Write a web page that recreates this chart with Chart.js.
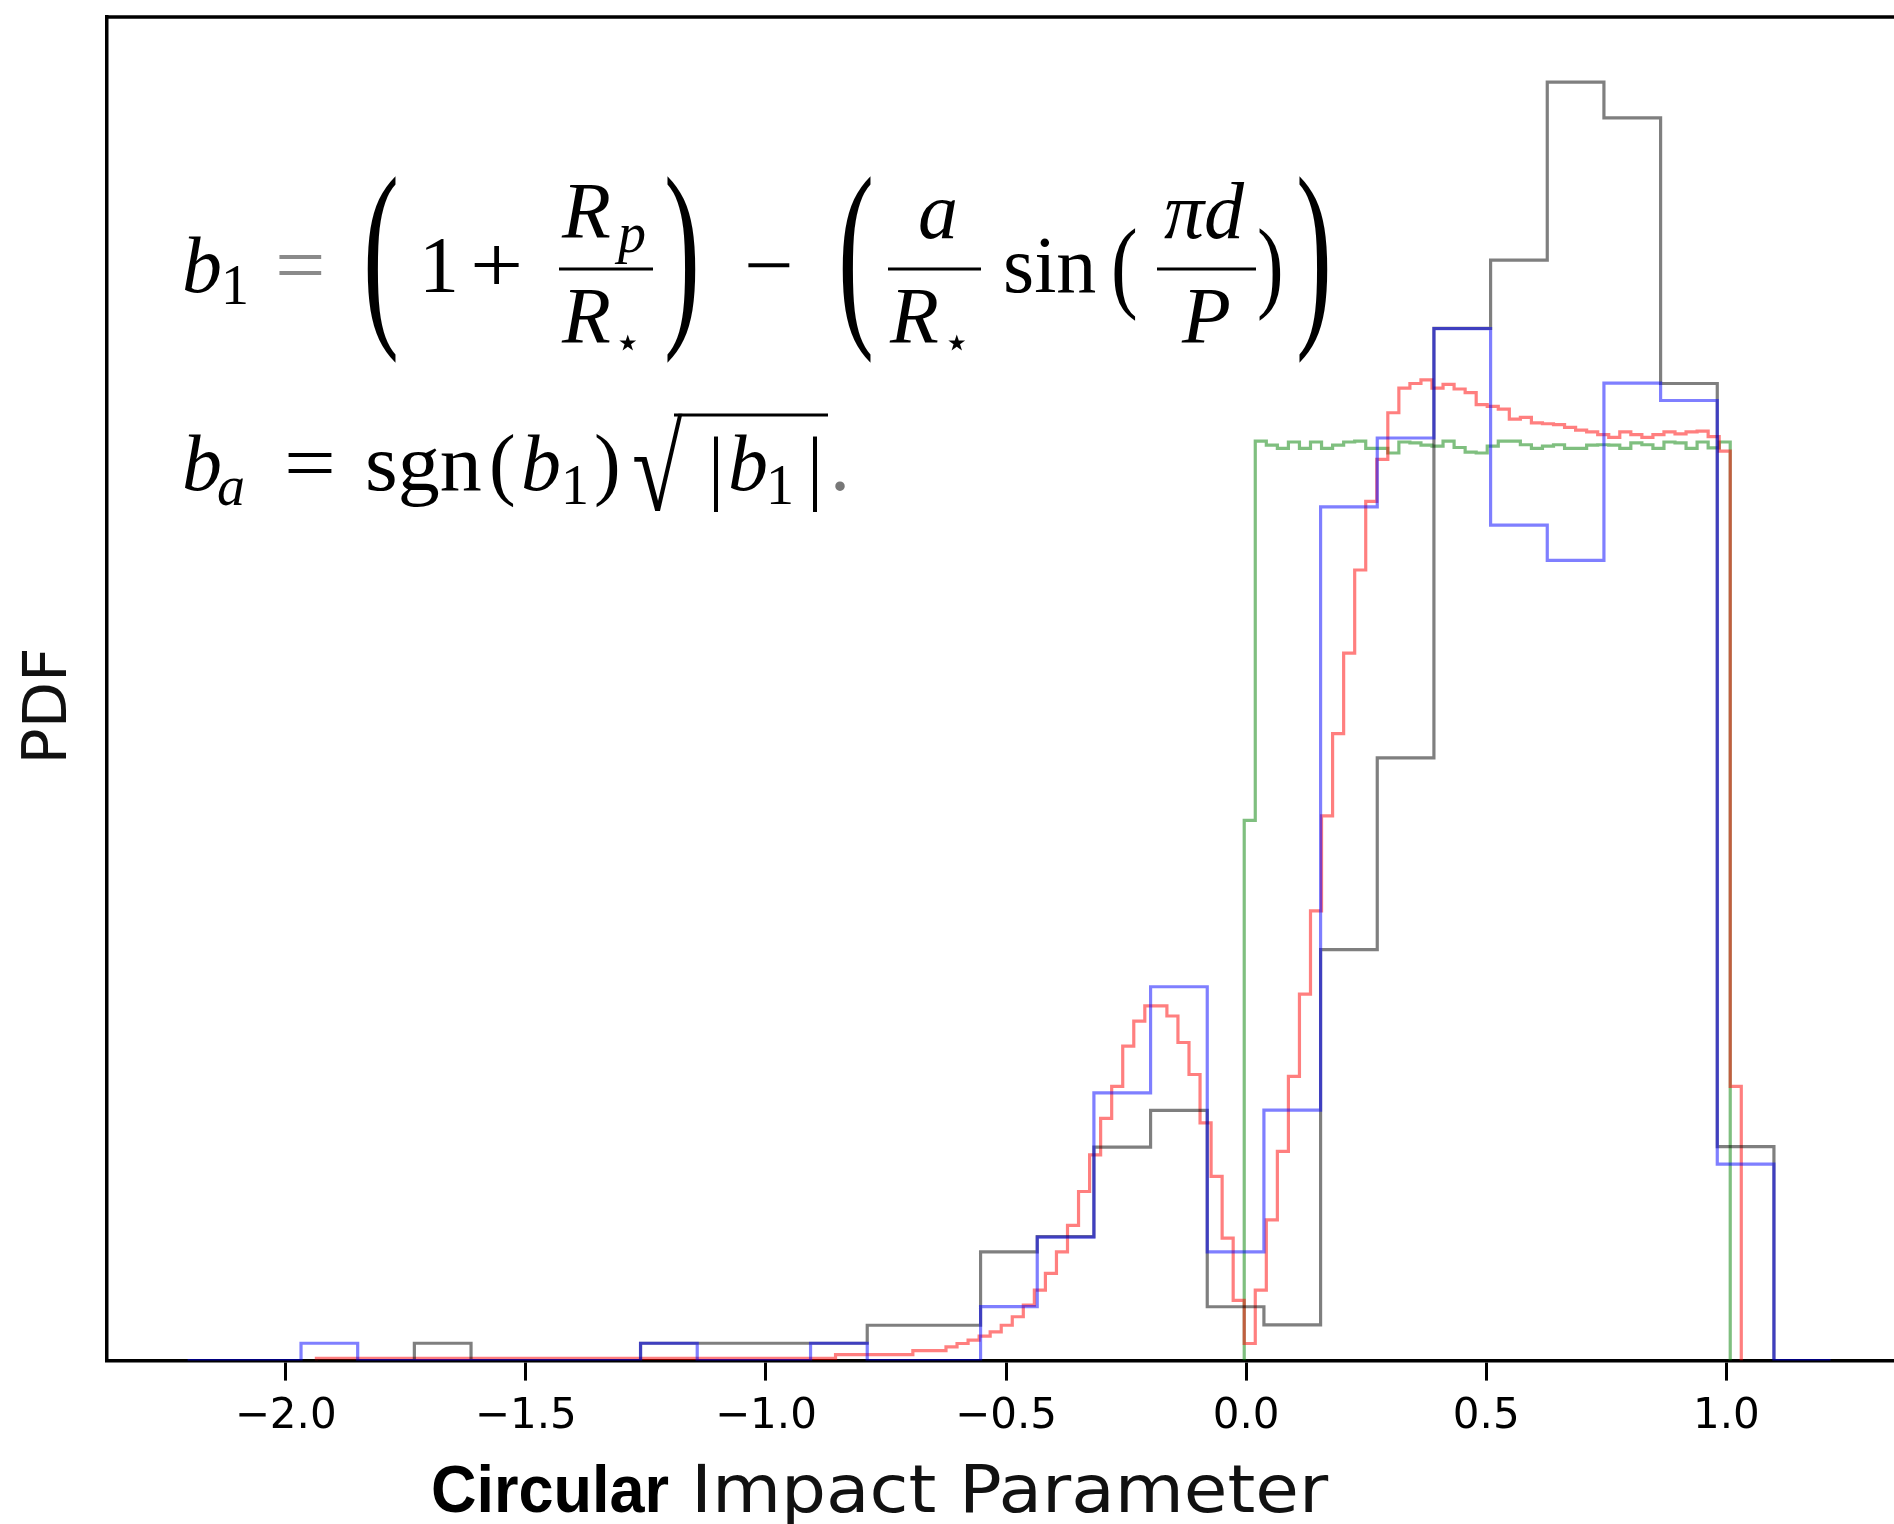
<!DOCTYPE html>
<html><head><meta charset="utf-8">
<script src="https://cdn.jsdelivr.net/npm/chart.js@4"></script>
<style>html,body{margin:0;padding:0;background:#fff;overflow:hidden}canvas{display:block}</style>
</head><body>
<canvas id="c" width="1894" height="1524"></canvas>
<script>
// ---- data ----
const tickValues = [-2.0, -1.5, -1.0, -0.5, 0.0, 0.5, 1.0];
const tickLabels = ['\u22122.0', '\u22121.5', '\u22121.0', '\u22120.5', '0.0', '0.5', '1.0'];

const coarseEdges = [-2.204,-2.086,-1.968,-1.850,-1.732,-1.614,-1.496,-1.378,-1.261,-1.143,
  -1.025,-0.907,-0.789,-0.671,-0.553,-0.435,-0.317,-0.199,-0.081,0.037,
  0.155,0.273,0.391,0.509,0.627,0.745,0.863,0.981,1.099,1.217];

const blackPdf = [0,0,0,0,0.019,0,0,0,0.019,0.019,
  0.019,0.019,0.0387,0.0387,0.119,0.1356,0.2335,0.2738,0.0589,0.039,
  0.4496,0.6594,1.1294,1.204,1.3988,1.3596,1.069,0.2342,0];

const bluePdf = [0,0,0.019,0,0,0,0,0,0.019,0,
  0,0.019,0,0,0.059,0.135,0.293,0.409,0.119,0.274,
  0.934,1.0094,1.129,0.914,0.8755,1.0695,1.0504,0.215,0];

const fineEdges = [-1.936,-1.913,-1.890,-1.867,-1.844,-1.821,-1.798,-1.775,-1.752,-1.729,
  -1.706,-1.683,-1.660,-1.637,-1.614,-1.591,-1.568,-1.545,-1.522,-1.499,
  -1.476,-1.453,-1.430,-1.407,-1.384,-1.361,-1.338,-1.315,-1.292,-1.269,
  -1.246,-1.223,-1.200,-1.177,-1.154,-1.131,-1.108,-1.085,-1.062,-1.039,
  -1.016,-0.993,-0.970,-0.947,-0.924,-0.901,-0.878,-0.855,-0.832,-0.809,
  -0.786,-0.763,-0.740,-0.717,-0.694,-0.671,-0.648,-0.625,-0.602,-0.579,
  -0.556,-0.533,-0.510,-0.487,-0.464,-0.441,-0.418,-0.395,-0.372,-0.349,
  -0.326,-0.303,-0.280,-0.257,-0.234,-0.211,-0.188,-0.165,-0.142,-0.119,
  -0.096,-0.073,-0.050,-0.027,-0.004,0.019,0.042,0.065,0.088,0.111,
  0.134,0.157,0.180,0.203,0.226,0.249,0.272,0.295,0.318,0.341,
  0.364,0.387,0.410,0.433,0.456,0.479,0.502,0.525,0.548,0.571,
  0.594,0.617,0.640,0.663,0.686,0.709,0.732,0.755,0.778,0.801,
  0.824,0.847,0.870,0.893,0.916,0.939,0.962,0.985,1.008,1.031];

const redPdf = [0.0025,0.0025,0.0025,0.0025,0.0025,0.0025,0.0025,0.0025,0.0025,0.0025,
  0.0025,0.0025,0.0025,0.0025,0.0025,0.0025,0.0025,0.0025,0.0025,0.0025,
  0.0025,0.0025,0.0025,0.0025,0.0025,0.0025,0.0025,0.0025,0.0025,0.0025,
  0.0025,0.0025,0.0025,0.0025,0.0025,0.0025,0.0025,0.0025,0.0025,0.0025,
  0.0025,0.0025,0.0025,0.0025,0.0025,0.0025,0.0025,
  0.0066,0.0066,0.0066,0.0066,0.0066,0.0066,0.0066,
  0.011,0.011,0.011,
  0.015,0.0187,0.0223,0.0267,0.0315,0.0387,0.048,0.0607,0.077,0.0954,
  0.119,0.148,0.185,0.225,0.265,0.300,0.344,0.3715,0.388,0.388,
  0.377,0.348,0.313,0.260,0.2015,0.134,0.066,0.0187,0.077,0.154,
  0.229,0.311,0.401,0.492,0.596,0.686,0.774,0.865,0.940,0.986,
  1.037,1.064,1.069,1.073,1.064,1.068,1.063,1.059,1.046,1.044,
  1.041,1.030,1.032,1.026,1.025,1.024,1.021,1.018,1.016,1.013,
  1.010,1.016,1.013,1.010,1.013,1.016,1.014,1.016,1.017,1.011,
  0.995,0.300];

const greenEdges = [-0.004,0.019,0.042,0.065,0.088,0.111,0.134,0.157,0.180,0.203,
  0.226,0.249,0.272,0.295,0.318,0.341,0.364,0.387,0.410,0.433,
  0.456,0.479,0.502,0.525,0.548,0.571,0.594,0.617,0.640,0.663,
  0.686,0.709,0.732,0.755,0.778,0.801,0.824,0.847,0.870,0.893,
  0.916,0.939,0.962,0.985,1.008];

const greenPdf = [0.591,
  1.006,1.0015,0.998,1.005,0.998,1.005,0.998,1.0015,1.005,1.006,
  0.998,0.998,0.993,1.005,1.004,1.0015,1.0005,1.006,0.999,0.994,
  0.993,1.0005,1.006,1.006,1.002,0.998,1.0005,1.002,0.998,0.998,
  1.0015,1.002,1.0015,0.998,1.004,1.002,0.998,1.005,1.004,0.998,
  1.005,0.9985,1.005];

// ---- helpers ----
function stepPoints(edges, vals) {
  const pts = [{x: edges[0], y: 0}];
  vals.forEach((v, i) => pts.push({x: edges[i], y: v}));
  pts.push({x: edges[vals.length], y: 0});
  return pts;
}
function histSet(edges, vals, color) {
  return {data: stepPoints(edges, vals), borderColor: color, borderWidth: 3.2,
    stepped: 'before', pointRadius: 0, fill: false, tension: 0};
}

const SERIF = '"Liberation Serif", "DejaVu Serif", serif';
function txt(c, s, x, y, size, o) {
  o = o || {};
  c.save();
  c.font = (o.italic ? 'italic ' : '') + (o.bold ? 'bold ' : '') + size + 'px ' + (o.family || SERIF);
  c.fillStyle = o.color || '#000';
  c.textBaseline = 'alphabetic';
  c.textAlign = 'left';
  c.translate(x, y);
  c.scale(o.sx || 1, o.sy || 1);
  c.fillText(s, 0, 0);
  c.restore();
}
// glyph stretched vertically to fill [top,bottom]
function box(c, s, x, top, bottom, size, sx, family) {
  c.save();
  c.font = size + 'px ' + (family || SERIF);
  const m = c.measureText(s);
  const h = m.actualBoundingBoxAscent + m.actualBoundingBoxDescent;
  const sy = (bottom - top) / h;
  c.translate(x, top + m.actualBoundingBoxAscent * sy);
  c.scale(sx || 1, sy);
  c.fillStyle = '#000';
  c.textBaseline = 'alphabetic';
  c.fillText(s, 0, 0);
  c.restore();
}
function bar(c, x0, x1, y) { c.fillStyle = '#000'; c.fillRect(x0, y - 1.5, x1 - x0, 3); }

const annot = {
  id: 'annot',
  afterDraw(chart) {
    const c = chart.ctx;
    const a = chart.chartArea;
    c.save();
    // top spine
    c.strokeStyle = '#000'; c.lineWidth = 3.5;
    c.beginPath(); c.moveTo(a.left - 1.5, a.top); c.lineTo(chart.width, a.top); c.stroke();

    // ---- equation line 1 ----
    txt(c, 'b', 182, 292, 80, {italic: true});
    txt(c, '1', 221, 304, 56);
    txt(c, '=', 275, 292, 80, {color: '#8a8a8a', sx: 1.12});
    box(c, '(', 363, 175, 365, 80, 1.35);
    txt(c, '1', 419, 292, 80);
    txt(c, '+', 470, 292, 80, {sx: 1.18});
    bar(c, 559, 653, 269);
    txt(c, 'R', 562, 238, 80, {italic: true});
    txt(c, 'p', 618, 252, 56, {italic: true});
    txt(c, 'R', 562, 343, 80, {italic: true});
    txt(c, '\u22C6', 614, 357, 44);
    box(c, ')', 664, 175, 365, 80, 1.35);
    txt(c, '\u2212', 744, 292, 80, {sx: 1.1});
    box(c, '(', 838, 175, 365, 80, 1.35);
    bar(c, 888, 981, 269);
    txt(c, 'a', 918, 238, 80, {italic: true});
    txt(c, 'R', 890, 343, 80, {italic: true});
    txt(c, '\u22C6', 943, 357, 44);
    txt(c, 'sin', 1003, 292, 80);
    box(c, '(', 1111, 229, 322, 80, 1.0);
    bar(c, 1157, 1256, 269);
    txt(c, '\u03C0d', 1164, 238, 80, {italic: true});
    txt(c, 'P', 1182, 343, 80, {italic: true});
    box(c, ')', 1257, 229, 322, 80, 1.0);
    box(c, ')', 1296, 175, 365, 80, 1.35);

    // ---- equation line 2 ----
    txt(c, 'b', 182, 490, 80, {italic: true});
    txt(c, 'a', 217, 505, 56, {italic: true});
    txt(c, '=', 284, 490, 80, {sx: 1.15});
    txt(c, 'sgn', 365, 490, 80, {sx: 1.05});
    txt(c, '(', 489, 490, 80);
    txt(c, 'b', 521, 490, 80, {italic: true});
    txt(c, '1', 561, 504, 56);
    txt(c, ')', 594, 490, 80);
    box(c, '\u221A', 632, 413, 512, 80, 1.15);
    bar(c, 674, 828, 415);
    box(c, '|', 708, 435, 512, 80, 1.0);
    txt(c, 'b', 728, 490, 80, {italic: true});
    txt(c, '1', 766, 504, 56);
    box(c, '|', 807, 435, 512, 80, 1.0);
    txt(c, '.', 830, 490, 80, {color: '#777'});

    // ---- axis titles ----
    c.save();
    c.translate(50, 706);
    c.rotate(-Math.PI / 2);
    c.font = '60px "DejaVu Sans"';
    c.fillStyle = '#111';
    c.textAlign = 'center';
    c.textBaseline = 'middle';
    c.fillText('PDF', 0, 0);
    c.restore();

    txt(c, 'Circular', 431, 1512, 67, {bold: true, family: '"Liberation Sans", Arial, sans-serif', sx: 0.94});
    txt(c, 'Impact Parameter', 691, 1512, 66, {family: '"DejaVu Sans", sans-serif', color: '#111', sx: 1.075});
    c.restore();
  }
};

new Chart(document.getElementById('c').getContext('2d'), {
  type: 'line',
  data: {
    datasets: [
      histSet(coarseEdges, bluePdf, 'rgba(0,0,255,0.5)'),
      histSet(coarseEdges, blackPdf, 'rgba(0,0,0,0.5)'),
      histSet(fineEdges, redPdf, 'rgba(255,0,0,0.5)'),
      histSet(greenEdges, greenPdf, 'rgba(0,128,0,0.5)')
    ]
  },
  options: {
    responsive: false,
    animation: false,
    events: [],
    layout: {padding: {left: 107, right: 0, top: 17, bottom: 71}},
    plugins: {legend: {display: false}, tooltip: {enabled: false}, title: {display: false}},
    scales: {
      x: {
        type: 'linear', min: -2.372, max: 1.349,
        afterBuildTicks: s => { s.ticks = tickValues.map(v => ({value: v})); },
        ticks: {
          callback: (v, i) => tickLabels[i],
          font: {family: 'DejaVu Sans', size: 42},
          color: '#000', padding: 11, maxRotation: 0, autoSkip: false
        },
        grid: {display: true, drawOnChartArea: false, drawTicks: true, tickLength: 20, tickWidth: 3, tickColor: '#000'},
        border: {display: true, color: '#000', width: 3.5}
      },
      y: {
        min: 0, max: 1.47,
        ticks: {display: false},
        grid: {display: false, drawTicks: false},
        border: {display: true, color: '#000', width: 3.5}
      }
    }
  },
  plugins: [annot]
});
</script>
</body></html>
